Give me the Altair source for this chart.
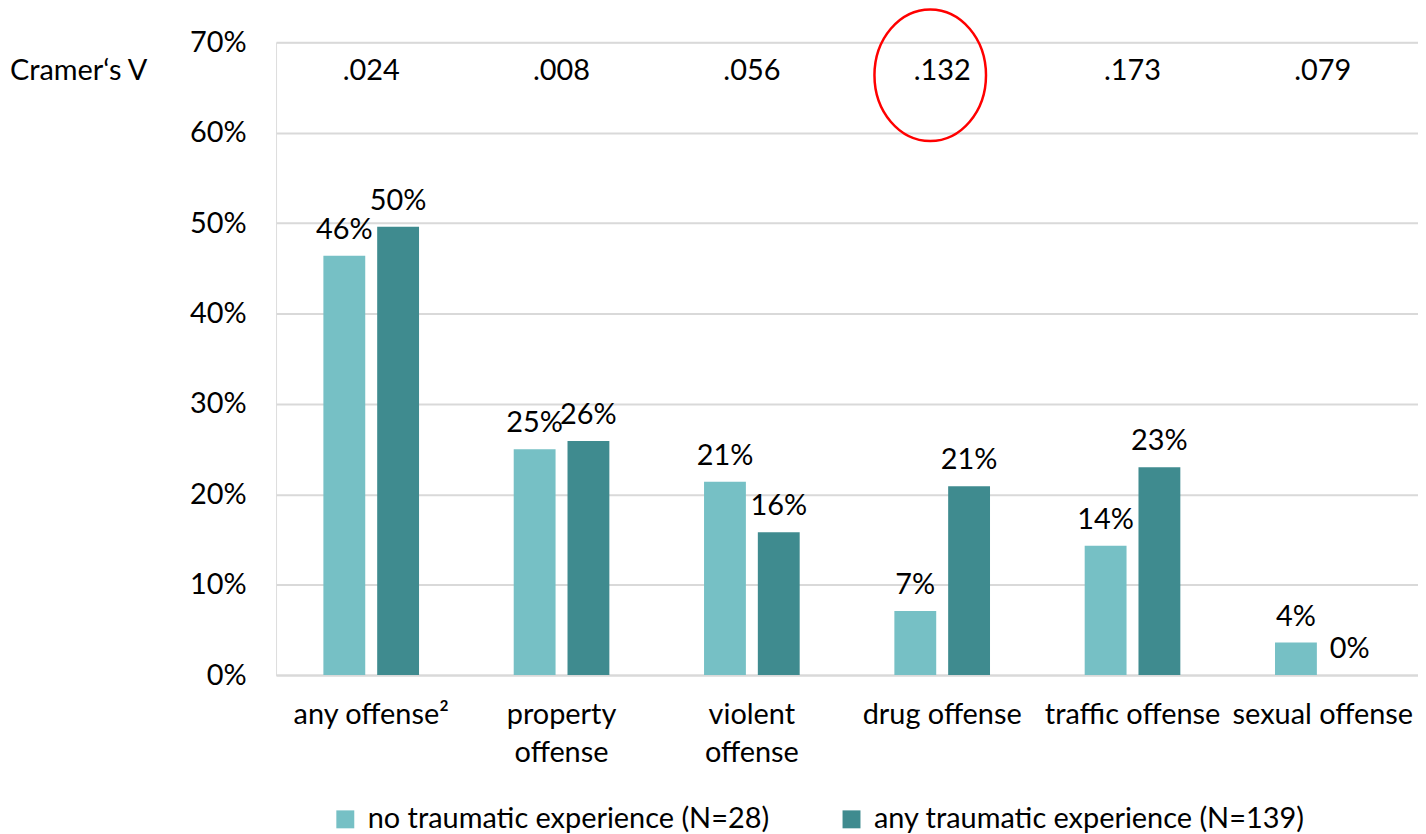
import altair as alt
import pandas as pd

categories = ["any offense²", "property offense", "violent offense",
              "drug offense", "traffic offense", "sexual offense"]
groups = ["no traumatic experience (N=28)", "any traumatic experience (N=139)"]
no_trauma = [46.4, 25.0, 21.4, 7.1, 14.3, 3.6]
any_trauma = [49.6, 25.9, 15.8, 20.9, 23.0, 0.0]
cramers_v = [".024", ".008", ".056", ".132", ".173", ".079"]
highlighted = ["drug offense"]

rows = []
for c, a, b in zip(categories, no_trauma, any_trauma):
    rows.append({"category": c, "group": groups[0], "value": a})
    rows.append({"category": c, "group": groups[1], "value": b})
df = pd.DataFrame(rows)
cv_df = pd.DataFrame({"category": categories, "v": cramers_v})
hl_df = pd.DataFrame({"category": highlighted})
lab_df = pd.DataFrame({"t": ["Cramer\u2018s V"]})

FONT = "Lato"
FS = 29
LIGHT = "#76C0C5"
DARK = "#3F8B8F"

x_enc = alt.X(
    "category:N", sort=categories,
    scale=alt.Scale(domain=categories, paddingInner=0, paddingOuter=0),
    axis=alt.Axis(
        title=None, labelAngle=0, ticks=False, domain=True,
        domainColor="#D9D9D9", domainWidth=2, labelFontSize=FS,
        labelColor="#000000", labelPadding=26, labelLineHeight=38,
        labelFont=FONT, labelLimit=300,
        labelExpr="indexof(['property offense','violent offense'], datum.label) >= 0 ? split(datum.label, ' ') : datum.label",
    ),
)
y_enc = alt.Y(
    "value:Q",
    scale=alt.Scale(domain=[0, 70], nice=False),
    axis=alt.Axis(
        title=None, values=[0, 10, 20, 30, 40, 50, 60, 70],
        labelExpr="datum.value + '%'", ticks=False, domain=False,
        labelFontSize=FS, labelColor="#000000", labelPadding=30,
        labelFont=FONT, gridColor="#D9D9D9", gridWidth=2,
    ),
)
xoff = alt.XOffset("group:N", sort=groups,
                   scale=alt.Scale(domain=groups, paddingInner=0.222, paddingOuter=0.88))

bars = alt.Chart(df).mark_bar().encode(
    x=x_enc, y=y_enc, xOffset=xoff,
    color=alt.Color(
        "group:N", sort=groups,
        scale=alt.Scale(domain=groups, range=[LIGHT, DARK]),
        legend=alt.Legend(
            title=None, orient="none", legendX=55, legendY=765,
            direction="horizontal", symbolType="square", symbolSize=324,
            symbolStrokeWidth=0, labelFontSize=FS, labelFont=FONT,
            labelColor="#000000", columnPadding=67, labelOffset=8,
            labelLimit=700,
        ),
    ),
)

bar_labels = alt.Chart(df).transform_calculate(
    lbl="format(datum.value, '.0f') + '%'"
).mark_text(fontSize=FS, font=FONT, color="#000000", baseline="alphabetic", dy=-17).encode(
    x=alt.X("category:N", sort=categories), y="value:Q", xOffset=xoff, text="lbl:N"
)

cv_text = alt.Chart(cv_df).mark_text(
    fontSize=FS, font=FONT, color="#000000", baseline="alphabetic"
).encode(x=alt.X("category:N", sort=categories), y=alt.value(38), text="v:N")

cv_label = alt.Chart(lab_df).mark_text(
    fontSize=FS, font=FONT, color="#000000", baseline="alphabetic", align="left"
).encode(x=alt.value(-267), y=alt.value(38), text="t:N")

ellipse = alt.Chart(hl_df).mark_point(
    shape="M -0.848 0 A 0.848 1 0 1 0 0.848 0 A 0.848 1 0 1 0 -0.848 0 Z",
    size=17424, filled=False, stroke="#FF0000", strokeWidth=2.5, opacity=1,
    xOffset=-12,
).encode(x=alt.X("category:N", sort=categories), y=alt.value(33))

chart = alt.layer(bars, bar_labels, cv_text, cv_label, ellipse).properties(
    width=1146, height=635,
    autosize=alt.AutoSizeParams(type="none"),
    padding={"left": 269, "top": 33, "right": 0, "bottom": 165},
).configure_view(stroke=None).configure(font=FONT)

chart.save("out.html", embed_options={"renderer": "svg", "actions": False})
